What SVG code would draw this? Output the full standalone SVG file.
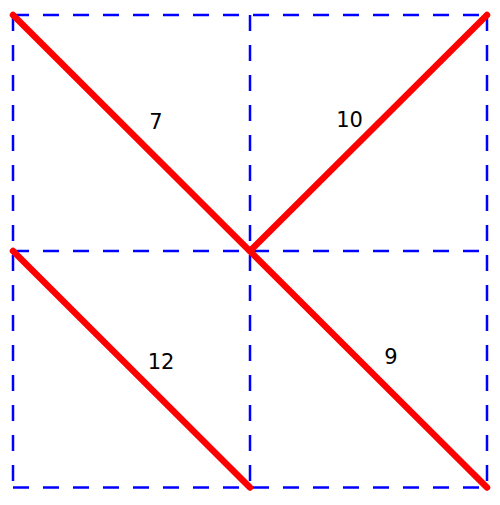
<svg xmlns="http://www.w3.org/2000/svg" width="500" height="505" viewBox="0 0 500 505">
<style>
.grid{stroke:#0000ff;stroke-width:2.5;stroke-dasharray:16,14;fill:none}
.edge{stroke:#ff0000;stroke-width:6.5;stroke-linecap:round;fill:none}
.lbl{font-family:"DejaVu Sans",sans-serif;font-size:21px;fill:#000;text-anchor:middle}
</style>
<rect width="500" height="505" fill="#fff"/>
<g id="grid">
<line class="grid" x1="13" y1="15" x2="487" y2="15"/>
<line class="grid" x1="13" y1="251" x2="487" y2="251"/>
<line class="grid" x1="13" y1="487.5" x2="487" y2="487.5"/>
<line class="grid" x1="13" y1="15" x2="13" y2="487.5"/>
<line class="grid" x1="250" y1="15" x2="250" y2="487.5"/>
<line class="grid" x1="487" y1="15" x2="487" y2="487.5"/>
</g>
<g id="connectors">
<line class="edge" x1="13" y1="15" x2="487" y2="487.5"/>
<line class="edge" x1="250" y1="251" x2="487" y2="15"/>
<line class="edge" x1="13" y1="251" x2="250" y2="487.5"/>
</g>
<g id="labels">
<text class="lbl" x="156" y="129">7</text>
<text class="lbl" x="349.5" y="127">10</text>
<text class="lbl" x="161" y="369">12</text>
<text class="lbl" x="391" y="364">9</text>
</g>
</svg>
